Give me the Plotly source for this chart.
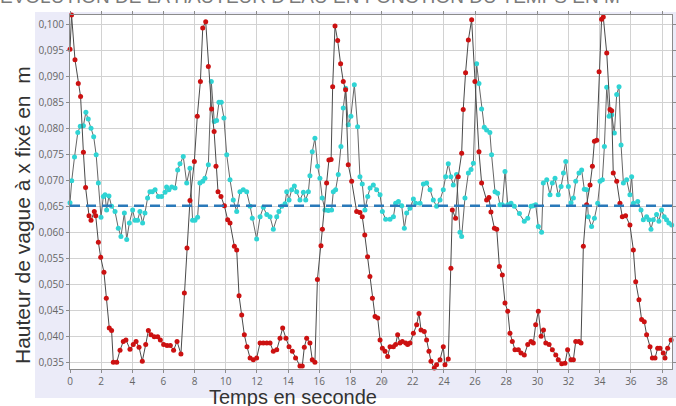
import plotly.graph_objects as go

# ---------------- data ----------------
red_t = [0.00, 0.10, 0.32, 0.53, 0.68, 0.86, 1.00, 1.22, 1.35, 1.56, 1.65, 1.82, 1.97, 2.18, 2.33, 2.52, 2.67, 2.78, 3.00, 3.21,
         3.42, 3.59, 3.85, 4.06, 4.24, 4.43, 4.64, 4.86, 5.03, 5.20,
         5.41, 5.63, 5.80, 6.01, 6.23, 6.44, 6.65, 6.87, 7.12, 7.34,
         7.51, 7.70, 7.98, 8.17, 8.37, 8.52, 8.71, 8.88, 9.09, 9.25,
         9.37, 9.50, 9.69, 9.91, 10.12, 10.27, 10.55, 10.70, 10.85, 11.02,
         11.19, 11.36, 11.56, 11.77, 11.98, 12.20, 12.41, 12.63, 12.84, 13.05,
         13.27, 13.48, 13.65, 13.86, 14.06, 14.27, 14.48, 14.76, 14.91, 15.04,
         15.19, 15.40, 15.55, 15.72, 15.88, 16.11, 16.20,
         16.47, 16.62, 16.76, 16.86, 17.01, 17.18, 17.37, 17.54, 17.69, 17.86, 18.08, 18.40, 18.61, 18.76, 18.92, 19.10, 19.25,
         19.41, 19.58, 19.75, 19.90, 20.05, 20.22, 20.39, 20.54, 20.76, 20.90,
         21.03, 21.18, 21.33, 21.55, 21.67, 21.82, 22.04, 22.25, 22.40, 22.53,
         22.74, 22.89, 23.04, 23.17, 23.38, 23.53, 23.75, 23.96, 24.07, 24.28,
         24.45, 24.54, 24.75, 24.92, 25.14, 25.24, 25.39, 25.57, 25.78, 25.99,
         26.25, 26.42, 26.74, 26.89, 27.02, 27.24, 27.39, 27.56, 27.75, 27.92,
         28.10, 28.24, 28.39, 28.56, 28.78,
         28.95, 29.16, 29.38, 29.59, 29.74, 29.89, 30.06, 30.24, 30.39, 30.54,
         30.75, 30.96, 31.18, 31.34, 31.56, 31.77, 31.94, 32.16, 32.31, 32.46,
         32.67, 32.80, 32.95, 33.16, 33.38, 33.53, 33.66, 33.81, 33.96, 34.12,
         34.23, 34.45, 34.66, 34.77, 34.87, 35.09, 35.30, 35.45, 35.66, 35.94,
         36.16, 36.31, 36.52, 36.69, 36.86, 37.01, 37.23, 37.38, 37.55, 37.72,
         37.87, 38.08, 38.19, 38.36, 38.58, 38.73]
red_h = [0.0953, 0.1019, 0.0933, 0.0887, 0.0862, 0.0755, 0.0687, 0.0633, 0.0624, 0.0641, 0.0633, 0.0582, 0.0553, 0.0524, 0.0474, 0.0417, 0.0412, 0.0351, 0.0351, 0.0374,
         0.0391, 0.0394, 0.0376, 0.0385, 0.0391, 0.0380, 0.0353, 0.0385, 0.0412, 0.0404,
         0.0400, 0.0400, 0.0394, 0.0385, 0.0383, 0.0383, 0.0374, 0.0391, 0.0367, 0.0484,
         0.0571, 0.0662, 0.0737, 0.0824, 0.0891, 0.0994, 0.1006, 0.0920, 0.0838, 0.0795,
         0.0728, 0.0679, 0.0670, 0.0652, 0.0625, 0.0619, 0.0574, 0.0567, 0.0479, 0.0442,
         0.0404, 0.0381, 0.0359, 0.0356, 0.0359, 0.0388, 0.0388, 0.0388, 0.0388, 0.0372,
         0.0375, 0.0397, 0.0417, 0.0397, 0.0381, 0.0372, 0.0359, 0.0344, 0.0344, 0.0380,
         0.0397, 0.0388, 0.0356, 0.0351, 0.0510, 0.0575, 0.0607,
         0.0696, 0.0740, 0.0741, 0.0881, 0.0998, 0.0970, 0.0925, 0.0891, 0.0875, 0.0731, 0.0699, 0.0641, 0.0639, 0.0631, 0.0596, 0.0554, 0.0516,
         0.0474, 0.0439, 0.0436, 0.0394, 0.0378, 0.0372, 0.0362, 0.0381, 0.0381, 0.0385,
         0.0404, 0.0388, 0.0391, 0.0388, 0.0385, 0.0388, 0.0407, 0.0423, 0.0445, 0.0413,
         0.0410, 0.0394, 0.0372, 0.0353, 0.0340, 0.0346, 0.0356, 0.0381, 0.0346, 0.0357,
         0.0532, 0.0644, 0.0628, 0.0708, 0.0753, 0.0837, 0.0908, 0.0971, 0.1010, 0.0891,
         0.0756, 0.0696, 0.0663, 0.0668, 0.0640, 0.0609, 0.0607, 0.0535, 0.0519, 0.0465,
         0.0449, 0.0407, 0.0391, 0.0375, 0.0375,
         0.0369, 0.0365, 0.0385, 0.0391, 0.0388, 0.0423, 0.0449, 0.0401, 0.0413, 0.0388,
         0.0385, 0.0375, 0.0365, 0.0356, 0.0348, 0.0349, 0.0375, 0.0356, 0.0356, 0.0391,
         0.0391, 0.0388, 0.0574, 0.0654, 0.0692, 0.0728, 0.0776, 0.0778, 0.0910, 0.1011,
         0.1015, 0.0946, 0.0837, 0.0835, 0.0715, 0.0699, 0.0657, 0.0631, 0.0633, 0.0615,
         0.0567, 0.0506, 0.0471, 0.0433, 0.0429, 0.0404, 0.0381, 0.0359, 0.0359, 0.0378,
         0.0378, 0.0369, 0.0359, 0.0378, 0.0394, 0.0397]

cyan_t = [0.00, 0.11, 0.29, 0.50, 0.66, 0.86, 1.02, 1.17, 1.35, 1.52, 1.68, 1.82, 1.99, 2.14, 2.25, 2.35, 2.50, 2.67, 2.89, 3.10,
          3.27, 3.49, 3.64, 3.81, 4.02, 4.17, 4.34, 4.49, 4.66, 4.81, 4.98, 5.13, 5.28, 5.46, 5.67, 5.88, 6.10, 6.20, 6.35, 6.53,
          6.74, 6.91, 7.06, 7.27, 7.49, 7.70, 7.87, 8.02, 8.19, 8.34, 8.52, 8.66, 8.88, 9.07, 9.26, 9.41, 9.56, 9.71, 9.88,
          10.06, 10.27, 10.48, 10.70, 10.91, 11.12, 11.34, 11.56, 11.70, 11.98,
          12.20, 12.41, 12.63, 12.84, 13.05, 13.27, 13.41, 13.59, 13.80, 13.91,
          14.06, 14.23, 14.40, 14.55, 14.76, 14.98, 15.13, 15.30, 15.40, 15.55,
          15.72, 15.89, 16.04, 16.19, 16.37, 16.58, 16.79, 16.90, 17.05, 17.22,
          17.39, 17.54, 17.69, 17.86, 18.03, 18.25, 18.46, 18.61, 18.76, 18.93,
          19.11, 19.26,
          19.47, 19.68, 19.90, 20.05, 20.26, 20.54, 20.76, 20.90, 21.08, 21.29,
          21.46, 21.61, 21.82, 22.04, 22.19, 22.47, 22.68, 22.89, 23.11, 23.32,
          23.53, 23.75, 23.96, 24.11, 24.28, 24.45, 24.60, 24.81, 25.03, 25.14,
          25.35, 25.57, 25.74, 25.89, 26.10, 26.25, 26.42, 26.59, 26.74, 26.95,
          27.06, 27.28, 27.45, 27.60, 27.75, 27.92, 28.10, 28.31, 28.52,
          28.85, 29.16, 29.38, 29.59, 29.74, 29.89, 30.06, 30.27, 30.38, 30.60,
          30.81, 30.96, 31.13, 31.34, 31.52, 31.67, 31.82, 31.99, 32.16, 32.31,
          32.46, 32.67, 32.84, 33.01, 33.16, 33.27, 33.48, 33.66, 33.87, 34.02,
          34.17, 34.30, 34.45, 34.60, 34.77, 34.94, 35.09, 35.24, 35.37, 35.52,
          35.73, 35.94, 36.05, 36.16, 36.44, 36.65, 36.80, 37.01, 37.16, 37.29,
          37.44, 37.65, 37.80, 37.97, 38.14, 38.29, 38.44, 38.62]
cyan_h = [0.0658, 0.0700, 0.0746, 0.0793, 0.0805, 0.0806, 0.0832, 0.0819, 0.0801, 0.0785, 0.0750, 0.0696, 0.0630, 0.0670, 0.0673, 0.0644, 0.0671, 0.0651, 0.0641, 0.0609,
          0.0593, 0.0638, 0.0587, 0.0619, 0.0644, 0.0624, 0.0624, 0.0641, 0.0619, 0.0638, 0.0667, 0.0679, 0.0679, 0.0683, 0.0670, 0.0670, 0.0678, 0.0688, 0.0683, 0.0688,
          0.0686, 0.0721, 0.0733, 0.0747, 0.0696, 0.0724, 0.0624, 0.0624, 0.0630, 0.0696, 0.0699, 0.0705, 0.0731, 0.0891, 0.0814, 0.0816, 0.0851, 0.0851, 0.0821,
          0.0750, 0.0702, 0.0663, 0.0641, 0.0679, 0.0683, 0.0679, 0.0651, 0.0628, 0.0588,
          0.0631, 0.0649, 0.0635, 0.0631, 0.0607, 0.0631, 0.0641, 0.0651, 0.0656, 0.0679,
          0.0663, 0.0683, 0.0690, 0.0679, 0.0663, 0.0678, 0.0663, 0.0679, 0.0710, 0.0756,
          0.0782, 0.0728, 0.0705, 0.0667, 0.0644, 0.0643, 0.0644, 0.0679, 0.0683, 0.0712,
          0.0766, 0.0840, 0.0878, 0.0808, 0.0824, 0.0885, 0.0804, 0.0708, 0.0694, 0.0644,
          0.0670, 0.0686,
          0.0692, 0.0683, 0.0673, 0.0641, 0.0626, 0.0626, 0.0631, 0.0657, 0.0660, 0.0652,
          0.0609, 0.0638, 0.0647, 0.0665, 0.0657, 0.0657, 0.0694, 0.0696, 0.0683, 0.0663,
          0.0651, 0.0663, 0.0683, 0.0708, 0.0733, 0.0708, 0.0692, 0.0712, 0.0601, 0.0593,
          0.0667, 0.0715, 0.0722, 0.0734, 0.0925, 0.0887, 0.0838, 0.0803, 0.0798, 0.0793,
          0.0750, 0.0679, 0.0676, 0.0654, 0.0654, 0.0718, 0.0654, 0.0657, 0.0651,
          0.0637, 0.0622, 0.0628, 0.0651, 0.0652, 0.0654, 0.0612, 0.0601, 0.0696, 0.0702,
          0.0673, 0.0696, 0.0705, 0.0673, 0.0689, 0.0715, 0.0737, 0.0689, 0.0658, 0.0667,
          0.0699, 0.0715, 0.0721, 0.0684, 0.0683, 0.0631, 0.0612, 0.0628, 0.0657, 0.0699,
          0.0702, 0.0766, 0.0880, 0.0824, 0.0827, 0.0792, 0.0866, 0.0881, 0.0769, 0.0696,
          0.0702, 0.0673, 0.0708, 0.0657, 0.0660, 0.0644, 0.0625, 0.0631, 0.0625, 0.0607,
          0.0625, 0.0635, 0.0622, 0.0644, 0.0631, 0.0625, 0.0619, 0.0615]

mean_level = 0.0652
x_ticks = list(range(0, 39, 2))

n_r = min(len(red_t), len(red_h))
n_c = min(len(cyan_t), len(cyan_h))

# ---------------- figure ----------------
W, H = 676, 406
ML, MR, MT, MB = 70, 4, 15, 37
PW, PH = W - ML - MR, H - MT - MB


def px_x(px):
    return (px - ML) / PW


def px_y(py):
    return (H - MB - py) / PH


fig = go.Figure()

fig.add_trace(go.Scatter(
    x=cyan_t[:n_c], y=cyan_h[:n_c], mode="lines+markers",
    line=dict(color="#666666", width=1),
    marker=dict(color="#2fd4d4", size=5, line=dict(width=0)),
    cliponaxis=False, showlegend=False, hoverinfo="skip"))

fig.add_trace(go.Scatter(
    x=red_t[:n_r], y=red_h[:n_r], mode="lines+markers",
    line=dict(color="#4a4a4a", width=1),
    marker=dict(color="#cc1111", size=5, line=dict(width=0)),
    cliponaxis=False, showlegend=False, hoverinfo="skip"))

shapes = [
    dict(type="rect", xref="paper", yref="paper", x0=px_x(35), x1=px_x(W + 5),
         y0=px_y(398), y1=px_y(12), fillcolor="#ebebf8", line=dict(width=0), layer="below"),
    dict(type="rect", xref="paper", yref="paper", x0=0, x1=1, y0=0, y1=1,
         fillcolor="white", line=dict(width=0), layer="below"),
    dict(type="line", xref="paper", yref="y", x0=0, x1=1, y0=mean_level, y1=mean_level,
         line=dict(color="#2a79b9", width=2.5, dash="10px,6px"), layer="above"),
]

annotations = [
    dict(text="EVOLUTION DE LA HAUTEUR D'EAU EN FONCTION DU TEMPS EN M",
         xref="paper", yref="paper", x=px_x(-2), y=px_y(8), xanchor="left", yanchor="bottom",
         yshift=-1, showarrow=False, font=dict(family="Liberation Sans, Arial", size=19, color="#7a7a7a")),
    dict(text="Hauteur de vague à x fixé en  m", xref="paper", yref="paper",
         x=px_x(22), y=px_y(215), xanchor="center", yanchor="middle", textangle=-90,
         showarrow=False, font=dict(family="Liberation Sans, Arial", size=21, color="#333333")),
    dict(text="Temps en seconde", xref="paper", yref="paper",
         x=px_x(293), y=px_y(397), xanchor="center", yanchor="middle",
         showarrow=False, font=dict(family="Liberation Sans, Arial", size=20, color="#333333")),
    dict(text="(s)", xref="paper", yref="paper",
         x=px_x(384), y=px_y(381), xanchor="center", yanchor="middle",
         showarrow=False, font=dict(family="Liberation Sans, Arial", size=6, color="#999999")),
]

axis_common = dict(
    showgrid=True, gridcolor="#d2d2d2", gridwidth=1, zeroline=False,
    showline=True, linecolor="#8c8c8c", linewidth=1, mirror="ticks",
    ticks="outside", ticklen=3, tickcolor="#8c8c8c",
    tickfont=dict(family="Open Sans, Liberation Sans", size=10, color="#666666"),
)

fig.update_layout(
    width=W, height=H, margin=dict(l=ML, r=MR, t=MT, b=MB, pad=0),
    paper_bgcolor="white", plot_bgcolor="white",
    separators=", ",
    xaxis=dict(range=[0, 38.64], tickvals=x_ticks, automargin=False, **axis_common),
    yaxis=dict(range=[0.0338, 0.1019], tick0=0.035, dtick=0.005, tickformat=".3f",
               automargin=False, **axis_common),
    shapes=shapes, annotations=annotations, showlegend=False,
)

fig.write_html(
    "out.html",
    config={"displayModeBar": False},
    post_script="document.body.style.margin='0px';document.body.style.overflow='hidden';",
)
